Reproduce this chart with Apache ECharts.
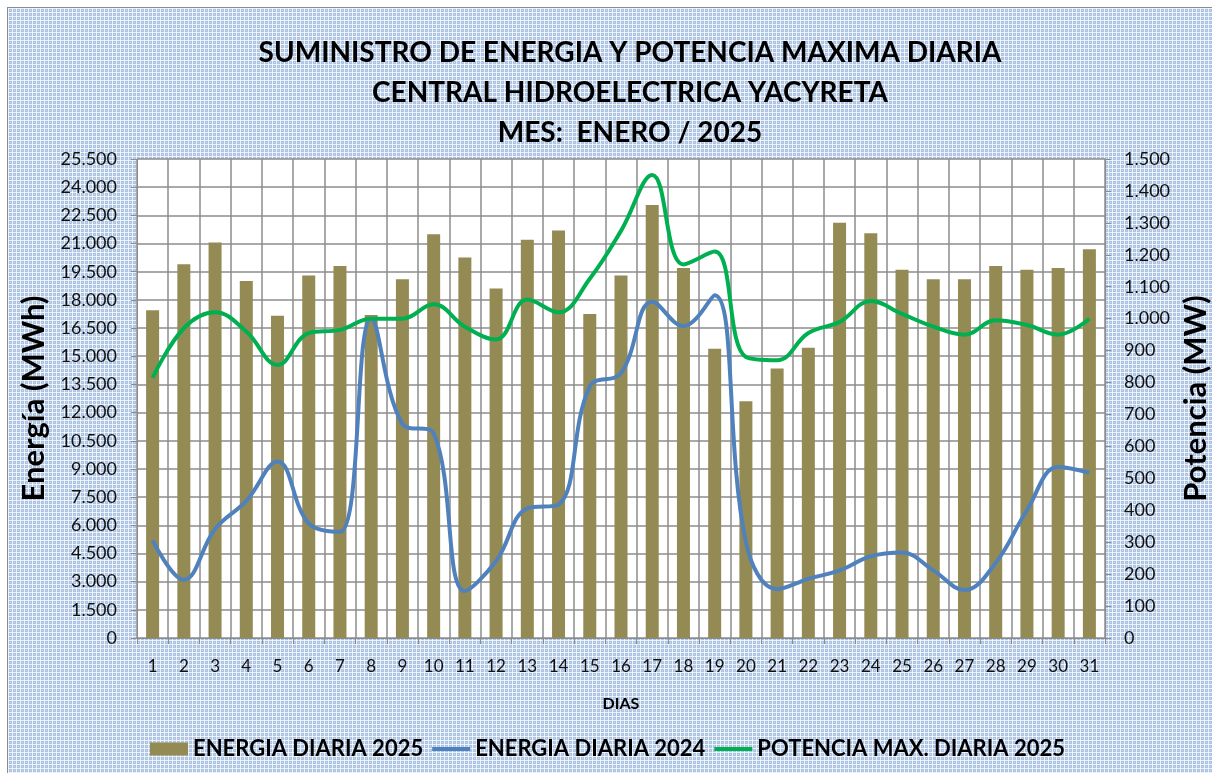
<!DOCTYPE html>
<html>
<head>
<meta charset="utf-8">
<script src="https://cdn.jsdelivr.net/npm/echarts@6/dist/echarts.min.js"></script>
<style>
  html, body { margin: 0; padding: 0; background: #ffffff; }
  #main { position: absolute; left: 7px; top: 7px; width: 1205px; height: 766px;
          border-left: 1px solid #8c8c8c; border-top: 1px solid #8c8c8c; box-sizing: border-box; }
</style>
</head>
<body>
<div id="main"></div>
<script>
// datos del grafico
var dias = [];
for (var d = 1; d <= 31; d++) dias.push(String(d));

var energia2025 = [17450, 19900, 21050, 19000, 17150, 19300, 19800, 17200, 19100, 21500,
                   20250, 18600, 21200, 21700, 17250, 19300, 23050, 19700, 15400, 12600,
                   14350, 15450, 22100, 21550, 19600, 19100, 19100, 19800, 19600, 19700, 20700];

var energia2024 = [5200, 3100, 5800, 7300, 9400, 6100, 5650, 17000, 11400, 10900,
                   2500, 4100, 6900, 7100, 13400, 14100, 17900, 16600, 18250, 5100,
                   2600, 3150, 3600, 4350, 4550, 3600, 2550, 4000, 6800, 9100, 8800];

var potencia2025 = [815, 970, 1020, 960, 855, 955, 965, 1000, 1000, 1045,
                    975, 935, 1060, 1020, 1125, 1275, 1450, 1170, 1210, 880,
                    870, 955, 990, 1055, 1015, 975, 950, 995, 980, 950, 1000];

var titulo = ['SUMINISTRO DE ENERGIA Y POTENCIA MAXIMA DIARIA',
              'CENTRAL HIDROELECTRICA YACYRETA',
              'MES:  ENERO / 2025'];

var FONT = 'Lato';

function miles(v) {
  return String(v).replace(/\B(?=(\d{3})+(?!\d))/g, '.');
}

// fondo cuadriculado azul
var tile = document.createElement('canvas');
tile.width = 4; tile.height = 4;
var c = tile.getContext('2d');
c.fillStyle = '#adc3e3';
c.fillRect(0, 0, 4, 4);
c.fillStyle = 'rgba(255,255,255,0.75)';
c.fillRect(0, 0, 4, 1);
c.fillRect(0, 0, 1, 4);
c.fillStyle = 'rgba(255,255,255,0.35)';
c.fillRect(2, 2, 1, 1);

// icono de linea para la leyenda
var lineIcon = 'path://M0,0 M38,13 M0,4.5 L38,4.5 L38,8.5 L0,8.5 Z';

var chart = echarts.init(document.getElementById('main'));

var option = {
  backgroundColor: { image: tile, repeat: 'repeat' },
  textStyle: { fontFamily: FONT },
  title: {
    text: titulo.join('\n'),
    left: 617,
    textAlign: 'center',
    top: 20,
    textStyle: { fontFamily: FONT, fontSize: 28, fontWeight: 'bold', color: '#000', lineHeight: 40 }
  },
  legend: {
    left: 142,
    top: 730,
    padding: 0,
    itemWidth: 38,
    itemHeight: 13,
    itemGap: 9,
    textStyle: { fontFamily: FONT, fontSize: 22, fontWeight: 'bold', color: '#000' },
    data: [
      { name: 'ENERGIA DIARIA 2025', icon: 'rect' },
      { name: 'ENERGIA DIARIA 2024', icon: lineIcon },
      { name: 'POTENCIA MAX. DIARIA 2025', icon: lineIcon }
    ]
  },
  grid: { left: 129, right: 107, top: 151, bottom: 135, show: true,
          backgroundColor: '#ffffff', borderWidth: 0, outerBoundsMode: 'none' },
  xAxis: {
    type: 'category',
    data: dias,
    name: 'DIAS',
    nameLocation: 'middle',
    nameGap: 58,
    nameTextStyle: { fontFamily: FONT, fontSize: 16, fontWeight: 'bold', color: '#000' },
    axisLine: { lineStyle: { color: '#8c8c8c' } },
    axisTick: { show: true, length: 6, lineStyle: { color: '#8c8c8c' } },
    axisLabel: { fontSize: 17, color: '#111', margin: 20, interval: 0 },
    splitLine: { show: true, lineStyle: { color: '#8c8c8c', width: 1.5 } }
  },
  yAxis: [{
    type: 'value',
    min: 0, max: 25500, interval: 1500,
    name: 'Energía (MWh)',
    nameLocation: 'middle',
    nameGap: 82,
    nameTextStyle: { fontFamily: FONT, fontSize: 31, fontWeight: 'bold', color: '#000' },
    axisLine: { show: true, lineStyle: { color: '#8c8c8c' } },
    axisTick: { show: true, length: 6, lineStyle: { color: '#8c8c8c' } },
    axisLabel: { fontSize: 18, color: '#111', margin: 20, formatter: miles },
    splitLine: { show: true, lineStyle: { color: '#8c8c8c', width: 1.5 } }
  }, {
    type: 'value',
    min: 0, max: 1500, interval: 100,
    name: 'Potencia (MW)',
    nameLocation: 'middle',
    nameGap: 69,
    nameRotate: 90,
    nameTextStyle: { fontFamily: FONT, fontSize: 31, fontWeight: 'bold', color: '#000' },
    axisLine: { show: true, lineStyle: { color: '#8c8c8c' } },
    axisTick: { show: true, length: 6, lineStyle: { color: '#8c8c8c' } },
    axisLabel: { fontSize: 18, color: '#111', margin: 19, formatter: miles },
    splitLine: { show: false }
  }],
  series: [{
    name: 'ENERGIA DIARIA 2025',
    type: 'bar',
    data: energia2025,
    barWidth: 13,
    itemStyle: { color: '#948a54' }
  }, {
    name: 'ENERGIA DIARIA 2024',
    type: 'line',
    data: energia2024,
    smooth: 0.4,
    symbol: 'none',
    lineStyle: { color: '#4f81bd', width: 4 },
    itemStyle: { color: '#4f81bd' }
  }, {
    name: 'POTENCIA MAX. DIARIA 2025',
    type: 'line',
    yAxisIndex: 1,
    data: potencia2025,
    smooth: 0.4,
    symbol: 'none',
    lineStyle: { color: '#00b050', width: 4 },
    itemStyle: { color: '#00b050' }
  }]
};

chart.setOption(option);
</script>
</body>
</html>
